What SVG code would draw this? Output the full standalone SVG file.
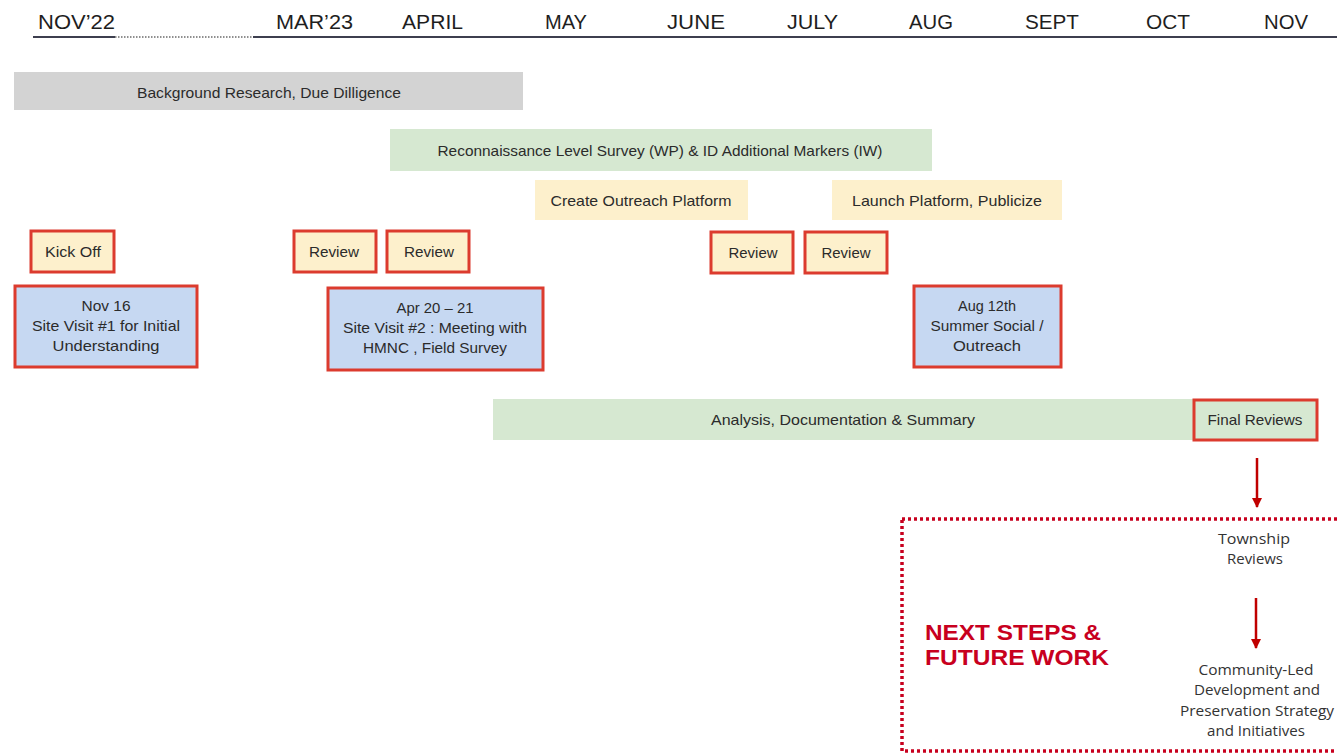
<svg xmlns="http://www.w3.org/2000/svg" width="1337" height="755" viewBox="0 0 1337 755">
<defs>
<style>
text{font-family:"Liberation Sans",Arial,sans-serif;fill:#2b2b2b;font-size:15px;text-anchor:middle}
.m{font-size:20px;fill:#1e1e1e;text-anchor:start}
.os{font-family:"Open Sans","Noto Sans",sans-serif;font-size:15px;fill:#333}
.ns{font-family:"Liberation Sans",Arial,sans-serif;font-weight:bold;font-size:22px;fill:#c8001e;text-anchor:start}
.gray{fill:#d3d3d3}
.green{fill:#d6e8d1}
.yel{fill:#fdf0cc}
.rev{fill:#fdf0cc;stroke:#dc3b2e;stroke-width:3}
.blue{fill:#c6d8f2;stroke:#dc3b2e;stroke-width:3}
.fr{fill:#d6e8d1;stroke:#dc3b2e;stroke-width:3}
.arr{stroke:#c00000;stroke-width:2.5;fill:none}
</style>
<marker id="ah" viewBox="0 0 10 10" refX="9" refY="5" markerWidth="4" markerHeight="4" orient="auto" markerUnits="strokeWidth">
<path d="M0,0 L10,5 L0,10 z" fill="#c00000"/>
</marker>
</defs>
<rect width="1337" height="755" fill="#fff"/>

<g id="timeline">
<line x1="33" y1="37" x2="115" y2="37" stroke="#3d3f4f" stroke-width="2"/>
<line x1="115" y1="37" x2="253" y2="37" stroke="#6b6b6b" stroke-width="1.5" stroke-dasharray="1.5 1.5"/>
<line x1="253" y1="37" x2="1337" y2="37" stroke="#3d3f4f" stroke-width="2"/>
<text class="m" x="38" y="29" textLength="77" lengthAdjust="spacingAndGlyphs">NOV’22</text>
<text class="m" x="276" y="29" textLength="77" lengthAdjust="spacingAndGlyphs">MAR’23</text>
<text class="m" x="402" y="29" textLength="61" lengthAdjust="spacingAndGlyphs">APRIL</text>
<text class="m" x="545" y="29" textLength="42" lengthAdjust="spacingAndGlyphs">MAY</text>
<text class="m" x="667" y="29" textLength="58" lengthAdjust="spacingAndGlyphs">JUNE</text>
<text class="m" x="787" y="29" textLength="51" lengthAdjust="spacingAndGlyphs">JULY</text>
<text class="m" x="909" y="29" textLength="44" lengthAdjust="spacingAndGlyphs">AUG</text>
<text class="m" x="1025" y="29" textLength="54" lengthAdjust="spacingAndGlyphs">SEPT</text>
<text class="m" x="1146" y="29" textLength="44" lengthAdjust="spacingAndGlyphs">OCT</text>
<text class="m" x="1264" y="29" textLength="44" lengthAdjust="spacingAndGlyphs">NOV</text>
</g>

<g id="background-research">
<rect class="gray" x="14" y="72" width="509" height="38"/>
<text x="269" y="98" textLength="264" lengthAdjust="spacingAndGlyphs">Background Research, Due Dilligence</text>
</g>

<g id="recon-survey">
<rect class="green" x="390" y="129" width="542" height="42"/>
<text x="660" y="156" textLength="445" lengthAdjust="spacingAndGlyphs">Reconnaissance Level Survey (WP) &amp; ID Additional Markers (IW)</text>
</g>

<g id="create-outreach">
<rect class="yel" x="535" y="180" width="213" height="40"/>
<text x="641" y="206" textLength="181" lengthAdjust="spacingAndGlyphs">Create Outreach Platform</text>
</g>

<g id="launch-platform">
<rect class="yel" x="832" y="180" width="230" height="40"/>
<text x="947" y="206" textLength="190" lengthAdjust="spacingAndGlyphs">Launch Platform, Publicize</text>
</g>

<g id="kick-off">
<rect class="rev" x="31" y="231" width="83" height="41"/>
<text x="73" y="257" textLength="56" lengthAdjust="spacingAndGlyphs">Kick Off</text>
</g>
<g id="review-1">
<rect class="rev" x="294" y="231" width="82" height="41"/>
<text x="334" y="257" textLength="50" lengthAdjust="spacingAndGlyphs">Review</text>
</g>
<g id="review-2">
<rect class="rev" x="387" y="231" width="82" height="41"/>
<text x="429" y="257" textLength="50" lengthAdjust="spacingAndGlyphs">Review</text>
</g>
<g id="review-3">
<rect class="rev" x="711" y="232" width="82" height="41"/>
<text x="753" y="258" textLength="49" lengthAdjust="spacingAndGlyphs">Review</text>
</g>
<g id="review-4">
<rect class="rev" x="805" y="232" width="82" height="41"/>
<text x="846" y="258" textLength="49" lengthAdjust="spacingAndGlyphs">Review</text>
</g>

<g id="site-visit-1">
<rect class="blue" x="15" y="286" width="182" height="81"/>
<text x="106" y="311" textLength="49" lengthAdjust="spacingAndGlyphs">Nov 16</text>
<text x="106" y="331" textLength="148" lengthAdjust="spacingAndGlyphs">Site Visit #1 for Initial</text>
<text x="106" y="351" textLength="107" lengthAdjust="spacingAndGlyphs">Understanding</text>
</g>

<g id="site-visit-2">
<rect class="blue" x="328" y="288" width="215" height="82"/>
<text x="435" y="313" textLength="77" lengthAdjust="spacingAndGlyphs">Apr 20 – 21</text>
<text x="435" y="333" textLength="184" lengthAdjust="spacingAndGlyphs">Site Visit #2 : Meeting with</text>
<text x="435" y="353" textLength="144" lengthAdjust="spacingAndGlyphs">HMNC , Field Survey</text>
</g>

<g id="summer-social">
<rect class="blue" x="914" y="286" width="147" height="81"/>
<text x="987" y="311" textLength="58" lengthAdjust="spacingAndGlyphs">Aug 12th</text>
<text x="987" y="331" textLength="113" lengthAdjust="spacingAndGlyphs">Summer Social /</text>
<text x="987" y="351" textLength="68" lengthAdjust="spacingAndGlyphs">Outreach</text>
</g>

<g id="analysis">
<rect class="green" x="493" y="399" width="700" height="41"/>
<text x="843" y="425" textLength="264" lengthAdjust="spacingAndGlyphs">Analysis, Documentation &amp; Summary</text>
</g>

<g id="final-reviews">
<rect class="fr" x="1194" y="400" width="123" height="40"/>
<text x="1255" y="425" textLength="95" lengthAdjust="spacingAndGlyphs">Final Reviews</text>
</g>

<g id="next-steps">
<rect x="902" y="519" width="445" height="232" fill="none" stroke="#c8001e" stroke-width="3.5" stroke-dasharray="3 3"/>
<text class="ns" x="925" y="640" textLength="176" lengthAdjust="spacingAndGlyphs">NEXT STEPS &amp;</text>
<text class="ns" x="925" y="665" textLength="184" lengthAdjust="spacingAndGlyphs">FUTURE WORK</text>
</g>

<g id="township-reviews">
<text class="os" x="1254" y="544" textLength="72" lengthAdjust="spacingAndGlyphs">Township</text>
<text class="os" x="1255" y="564" textLength="56" lengthAdjust="spacingAndGlyphs">Reviews</text>
</g>

<g id="community-led">
<text class="os" x="1256" y="675" textLength="115" lengthAdjust="spacingAndGlyphs">Community-Led</text>
<text class="os" x="1257" y="695" textLength="126" lengthAdjust="spacingAndGlyphs">Development and</text>
<text class="os" x="1257" y="716" textLength="154" lengthAdjust="spacingAndGlyphs">Preservation Strategy</text>
<text class="os" x="1256" y="736" textLength="98" lengthAdjust="spacingAndGlyphs">and Initiatives</text>
</g>

<g id="connectors">
<line class="arr" x1="1257" y1="458" x2="1257" y2="507" marker-end="url(#ah)"/>
<line class="arr" x1="1256" y1="598" x2="1256" y2="648" marker-end="url(#ah)"/>
</g>
</svg>
